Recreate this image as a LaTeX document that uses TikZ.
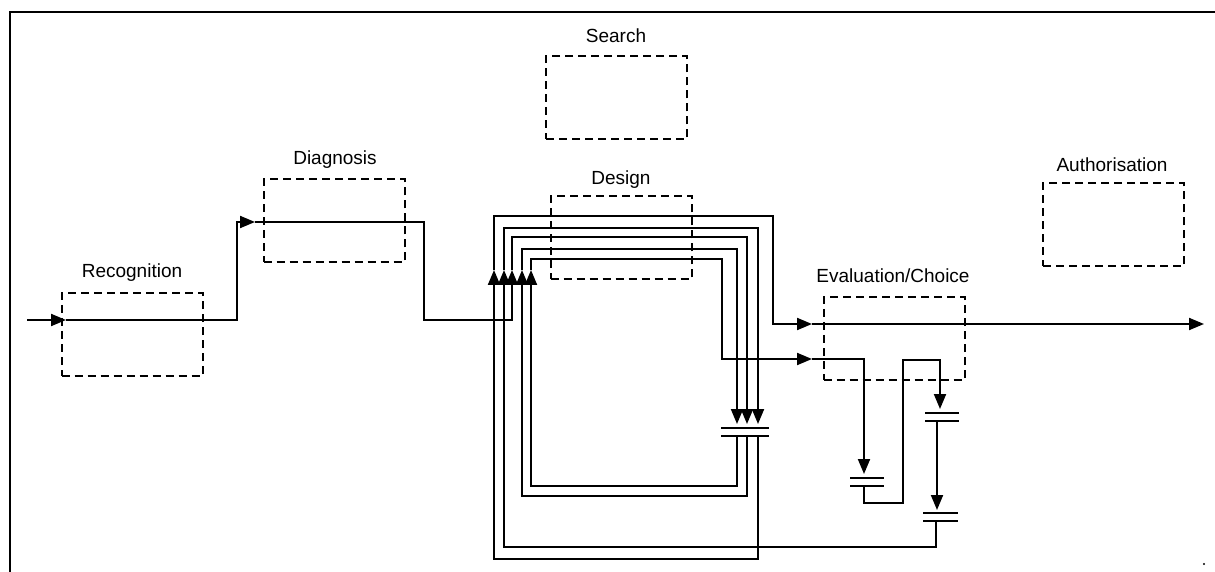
\documentclass[tikz,border=0pt]{standalone}
\usepackage{fontspec}
\setmainfont{Liberation Sans}
\usetikzlibrary{arrows.meta}
\begin{document}
\begin{tikzpicture}[x=0.5pt,y=-0.5pt,
  line width=1pt,
  tip/.style={-{Triangle[length=7.5pt,width=6pt]}},
  stage/.style={draw, dash pattern=on 4pt off 2.5pt, line width=1pt,
    minimum width=70.5pt, minimum height=41.5pt, inner sep=0pt},
  stagelabel/.style={font=\fontsize{9.5pt}{11pt}\selectfont, inner sep=0pt},
  pics/plates/.style={code={\draw (-#1,-4) -- (#1,-4) (-#1,4) -- (#1,4);}}]
\useasboundingbox (0,0) rectangle (1215,572);

% frame
\draw[line width=0.8pt] (1215,12) -- (10,12) -- (10,572);

% phase boxes
\node[stage] (rec) at (132,334.5) {};
\node[stage] (dia) at (334,221) {};
\node[stage] (sea) at (616.5,98) {};
\node[stage] (des) at (621,238) {};
\node[stage] (eva) at (894,338.5) {};
\node[stage] (aut) at (1113.5,225) {};

% phase names
\node[stagelabel] (recl) at (132,273) {Recognition};
\node[stagelabel] (dial) at (335,160) {Diagnosis};
\node[stagelabel] (seal) at (616,36) {Search};
\node[stagelabel] (desl) at (621,180) {Design};
\node[stagelabel] (eval) at (893,276) {Evaluation/Choice};
\node[stagelabel] (autl) at (1112,165) {Authorisation};

% interrupt points
\pic at (745,432) {plates=24};
\pic at (867,482) {plates=17};
\pic at (942,417) {plates=17};
\pic at (940.5,517) {plates=17.5};

% main route: recognition, diagnosis, into design
\draw[tip] (27,320) -- (66,320);
\draw[tip] (66,320) -- (237,320) -- (237,222) -- (255,222);
\draw[tip] (255,222) -- (424,222) -- (424,320) -- (512,320) -- (512,270);
\draw[tip] (512,270) -- (512,237) -- (747,237) -- (747,424);

% design loop feeding evaluation (lower entry)
\draw[tip] (737,436) -- (737,486) -- (531,486) -- (531,270);
\draw[tip] (531,270) -- (531,259) -- (722,259) -- (722,359) -- (812,359);
\draw[tip] (812,359) -- (864,359) -- (864,474);

% design self loop
\draw[tip] (747,436) -- (747,496) -- (522,496) -- (522,270);
\draw[tip] (522,270) -- (522,249) -- (737,249) -- (737,424);

% outer loop to evaluation and out
\draw[tip] (758,436) -- (758,559) -- (494,559) -- (494,270);
\draw[tip] (494,270) -- (494,216) -- (773,216) -- (773,324) -- (812,324);
\draw[tip] (812,324) -- (1204,324);

% evaluation interrupts and return to design
\draw[tip] (864,486) -- (864,503) -- (903,503) -- (903,360) -- (940,360) -- (940,409);
\draw[tip] (937,421) -- (937,510);
\draw[tip] (936,521) -- (936,547) -- (504,547) -- (504,270);
\draw[tip] (504,270) -- (504,228) -- (758,228) -- (758,424);

% corner mark
\fill (1204,564) circle (1.2);
\end{tikzpicture}
\end{document}
